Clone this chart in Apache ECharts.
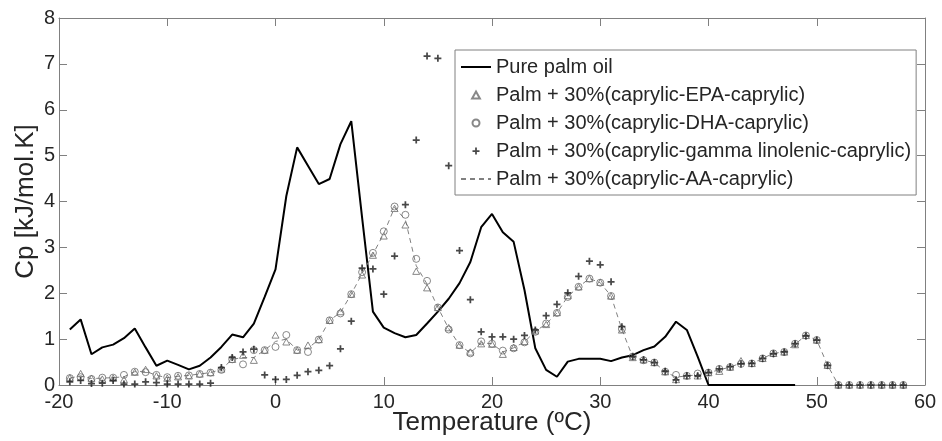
<!DOCTYPE html>
<html>
<head>
<meta charset="utf-8">
<script src="https://cdn.jsdelivr.net/npm/echarts@6/dist/echarts.min.js"></script>
<style>
  html, body { margin: 0; padding: 0; background: #fff; }
  #chart { width: 942px; height: 441px; }
</style>
</head>
<body>
<div id="chart"></div>
<script>
// temperatures (ºC)
const tempPalm = [-19,-18,-17,-16,-15,-14,-13,-12,-11,-10,-9,-8,-7,-6,-5,-4,-3,-2,-1,0,
  1,2,3,4,5,6,7,8,9,10,11,12,13,14,15,16,17,18,19,20,
  21,22,23,24,25,26,27,28,29,30,31,32,33,34,35,36,37,38,39,40,
  41,42,43,44,45,46,47,48];
const tempMix = [-19,-18,-17,-16,-15,-14,-13,-12,-11,-10,-9,-8,-7,-6,-5,-4,-3,-2,-1,0,
  1,2,3,4,5,6,7,8,9,10,11,12,13,14,15,16,17,18,19,20,
  21,22,23,24,25,26,27,28,29,30,31,32,33,34,35,36,37,38,39,40,
  41,42,43,44,45,46,47,48,49,50,51,52,53,54,55,56,57,58];

// Cp [kJ/mol.K]
const cpPalm = [1.21,1.43,0.67,0.82,0.88,1.02,1.23,0.82,0.42,0.53,0.44,0.34,0.42,0.6,0.83,1.1,1.04,1.34,1.92,2.52,
  4.12,5.18,4.78,4.38,4.49,5.25,5.75,3.65,1.6,1.25,1.13,1.04,1.09,1.34,1.6,1.88,2.22,2.68,3.44,3.73,
  3.33,3.12,2.07,0.8,0.33,0.18,0.51,0.57,0.57,0.57,0.52,0.6,0.65,0.76,0.84,1.05,1.38,1.2,0.62,0,
  0,0,0,0,0,0,0,0];
const cpEPA = [0.16,0.25,0.15,0.13,0.15,0.12,0.28,0.34,0.2,0.15,0.18,0.2,0.24,0.27,0.35,0.56,0.65,0.54,0.76,1.09,
  0.94,0.76,0.87,0.99,1.41,1.6,1.98,2.4,2.83,3.25,3.85,3.49,2.48,2.12,1.69,1.25,0.87,0.72,0.9,0.89,
  0.67,0.82,0.95,1.18,1.32,1.58,1.95,2.14,2.32,2.24,1.94,1.2,0.6,0.55,0.49,0.29,0.12,0.2,0.2,0.27,
  0.3,0.39,0.53,0.47,0.58,0.69,0.72,0.88,1.08,0.98,0.43,0,0,0,0,0,0,0];
const cpDHA = [0.15,0.17,0.13,0.16,0.16,0.22,0.29,0.28,0.22,0.17,0.2,0.21,0.24,0.27,0.33,0.56,0.45,0.76,0.76,0.83,
  1.09,0.76,0.72,0.99,1.41,1.56,1.98,2.46,2.88,3.35,3.89,3.71,2.75,2.27,1.69,1.21,0.87,0.69,0.95,0.9,
  0.75,0.8,0.93,1.16,1.34,1.57,1.92,2.14,2.32,2.23,1.94,1.22,0.62,0.54,0.49,0.29,0.22,0.2,0.25,0.27,
  0.35,0.39,0.46,0.47,0.58,0.69,0.72,0.9,1.08,0.98,0.43,0,0,0,0,0,0,0];
const cpGLA = [0.07,0.1,0.03,0.04,0.1,0.02,0.02,0.07,0.05,0.02,0.02,0.02,0.02,0.04,0.38,0.6,0.72,0.78,0.22,0.12,
  0.12,0.21,0.29,0.32,0.42,0.79,1.39,2.55,2.53,1.98,2.81,3.93,5.34,7.17,7.12,4.78,2.93,1.86,1.16,1.05,
  1.05,1.0,1.08,1.2,1.51,1.76,2.01,2.37,2.7,2.62,2.25,1.27,0.62,0.55,0.49,0.3,0.11,0.2,0.2,0.27,
  0.35,0.4,0.46,0.47,0.58,0.68,0.72,0.9,1.07,0.98,0.43,0,0,0,0,0,0,0];
const cpAA = [0.15,0.2,0.14,0.15,0.16,0.18,0.29,0.3,0.21,0.16,0.19,0.21,0.24,0.27,0.34,0.56,0.6,0.6,0.76,0.95,
  1.0,0.76,0.8,0.99,1.41,1.58,1.98,2.43,2.85,3.3,3.87,3.6,2.6,2.2,1.69,1.23,0.87,0.7,0.92,0.9,
  0.72,0.81,0.94,1.17,1.33,1.57,1.93,2.14,2.32,2.23,1.94,1.21,0.61,0.54,0.49,0.29,0.17,0.2,0.22,0.27,
  0.33,0.39,0.48,0.47,0.58,0.69,0.72,0.89,1.08,0.98,0.43,0,0,0,0,0,0,0];

const seriesNames = [
  'Pure palm oil',
  'Palm + 30%(caprylic-EPA-caprylic)',
  'Palm + 30%(caprylic-DHA-caprylic)',
  'Palm + 30%(caprylic-gamma linolenic-caprylic)',
  'Palm + 30%(caprylic-AA-caprylic)'
];

const pairs = (xs, ys) => xs.map((x, i) => [x, ys[i]]);
const font = 'Arial, "Liberation Sans", sans-serif';
const axisGray = '#808080';
const textColor = '#262626';
const plusPath = 'path://M3,0h2v3h3v2h-3v3h-2v-3h-3v-2h3z';
const triPath = 'path://M5,0L10,9L0,9Z';

const chart = echarts.init(document.getElementById('chart'), null, { renderer: 'canvas' });

// box axes like matlab: ticks inside on all four sides
const boxAxis = (extra) => Object.assign({
  type: 'value',
  axisLine: { show: true, onZero: false, lineStyle: { color: axisGray } },
  axisTick: { show: true, inside: true, length: 8, lineStyle: { color: axisGray } },
  splitLine: { show: false }
}, extra);

const option = {
  animation: false,
  backgroundColor: '#fff',
  grid: { left: 59, right: 17, top: 18, bottom: 56, outerBoundsMode: 'none' },
  legend: {
    orient: 'vertical',
    left: 455,
    top: 50,
    padding: [7, 5, 6, 5],
    itemGap: 8,
    itemWidth: 30,
    itemHeight: 7,
    symbolKeepAspect: true,
    backgroundColor: '#fff',
    borderColor: axisGray,
    borderWidth: 1,
    borderRadius: 0,
    textStyle: { fontFamily: font, fontSize: 20, color: textColor, lineHeight: 20 },
    data: [
      { name: seriesNames[0], itemStyle: { opacity: 0 } },
      { name: seriesNames[1] },
      { name: seriesNames[2] },
      { name: seriesNames[3] },
      { name: seriesNames[4], itemStyle: { opacity: 0 } }
    ]
  },
  xAxis: [
    boxAxis({
      min: -20, max: 60, interval: 10,
      name: 'Temperature (ºC)',
      nameLocation: 'middle',
      nameGap: 25,
      nameMoveOverlap: false,
      nameTextStyle: { fontFamily: font, fontSize: 26, color: textColor },
      axisLabel: { fontFamily: font, fontSize: 20, color: textColor, margin: 7 }
    }),
    boxAxis({ position: 'top', min: -20, max: 60, interval: 10, axisLabel: { show: false } })
  ],
  yAxis: [
    boxAxis({
      min: 0, max: 8, interval: 1,
      name: 'Cp [kJ/mol.K]',
      nameLocation: 'middle',
      nameGap: 20,
      nameMoveOverlap: false,
      nameTextStyle: { fontFamily: font, fontSize: 26, color: textColor },
      axisLabel: { fontFamily: font, fontSize: 20, color: textColor, margin: 4 }
    }),
    boxAxis({ position: 'right', min: 0, max: 8, interval: 1, axisLabel: { show: false } })
  ],
  series: [
    {
      name: seriesNames[0],
      type: 'line',
      data: pairs(tempPalm, cpPalm),
      symbol: 'none',
      lineStyle: { color: '#000', width: 2 },
      itemStyle: { color: '#000' },
      z: 2
    },
    {
      name: seriesNames[1],
      type: 'scatter',
      data: pairs(tempMix, cpEPA),
      symbol: triPath,
      symbolSize: 7,
      symbolKeepAspect: true,
      itemStyle: { color: 'rgba(255,255,255,0)', borderColor: '#6a6a6a', borderWidth: 1 },
      z: 3
    },
    {
      name: seriesNames[2],
      type: 'scatter',
      data: pairs(tempMix, cpDHA),
      symbol: 'circle',
      symbolSize: 7,
      itemStyle: { color: 'rgba(255,255,255,0)', borderColor: '#6a6a6a', borderWidth: 1 },
      z: 3
    },
    {
      name: seriesNames[3],
      type: 'scatter',
      data: pairs(tempMix, cpGLA),
      symbol: plusPath,
      symbolSize: 7,
      itemStyle: { color: '#1a1a1a' },
      z: 4
    },
    {
      name: seriesNames[4],
      type: 'line',
      data: pairs(tempMix, cpAA),
      symbol: 'none',
      lineStyle: { color: '#808080', width: 1, type: [5, 4] },
      itemStyle: { color: '#808080' },
      z: 2
    }
  ]
};

chart.setOption(option);
</script>
</body>
</html>
